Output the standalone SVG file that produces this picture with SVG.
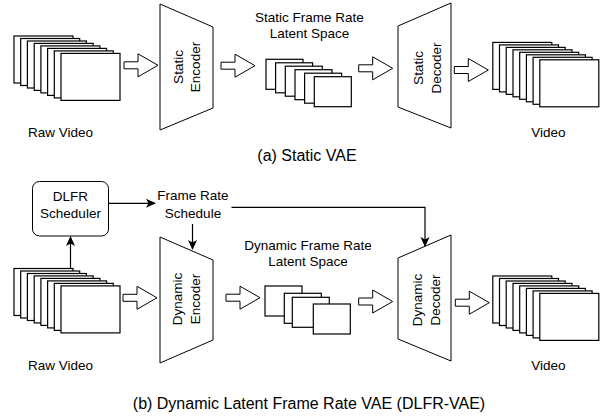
<svg xmlns="http://www.w3.org/2000/svg" xmlns:xlink="http://www.w3.org/1999/xlink" width="607" height="416" viewBox="0 0 607 416">
<style>
.fr{fill:#fff;stroke:#000;stroke-width:1.2}
.sh{fill:#fff;stroke:#000;stroke-width:1}
.t{font-family:"Liberation Sans",Arial,sans-serif;font-size:13.5px;fill:#000;text-anchor:middle}
.cap{font-family:"Liberation Sans",Arial,sans-serif;font-size:16px;fill:#000;text-anchor:middle}
.ln{fill:none;stroke:#000;stroke-width:1.2}
.blk{fill:#fff;stroke:#000;stroke-width:1}
</style>
<defs>
<marker id="ah" viewBox="0 0 10 10" refX="9" refY="5" markerWidth="10" markerHeight="10" markerUnits="userSpaceOnUse" orient="auto">
<path d="M0,0.5 L10,5 L0,9.5 L2.5,5 Z" fill="#000"/>
</marker>
<path id="barrow" d="M0,-3.5 H14 V-11.5 L34,0 L14,11.5 V3.5 H0 Z"/>
<g id="stack8">
<rect class="fr" x="14" y="36" width="59" height="47"/>
<rect class="fr" x="20.7" y="38.5" width="59" height="47"/>
<rect class="fr" x="27.4" y="41" width="59" height="47"/>
<rect class="fr" x="34.2" y="43.4" width="59" height="47"/>
<rect class="fr" x="40.9" y="45.9" width="59" height="47"/>
<rect class="fr" x="47.6" y="48.4" width="59" height="47"/>
<rect class="fr" x="54.3" y="50.9" width="59" height="47"/>
<rect class="fr" x="61" y="53.4" width="59" height="47"/>
</g>
</defs>

<!-- (a) Static VAE -->
<g id="raw-video-a">
<use xlink:href="#stack8"/>
<text class="t" x="60.5" y="136.5">Raw Video</text>
</g>
<g id="static-encoder">
<polygon class="sh" points="160,4 213,27 213,108 160,130"/>
<text class="t" transform="translate(182.5,67) rotate(-90)">Static</text>
<text class="t" transform="translate(200,67) rotate(-90)">Encoder</text>
</g>
<g id="static-latent">
<text class="t" x="309.5" y="21.5">Static Frame Rate</text>
<text class="t" x="309.5" y="38">Latent Space</text>
<rect class="fr" x="266" y="59.3" width="37" height="30"/>
<rect class="fr" x="275.6" y="62.8" width="37" height="30"/>
<rect class="fr" x="285.3" y="66.2" width="37" height="30"/>
<rect class="fr" x="295" y="69.7" width="37" height="30"/>
<rect class="fr" x="304.6" y="73.2" width="37" height="30"/>
<rect class="fr" x="314.3" y="76.7" width="37" height="30"/>
</g>
<g id="static-decoder">
<polygon class="sh" points="398,26 451,3 451,128 398,107"/>
<text class="t" transform="translate(423,68) rotate(-90)">Static</text>
<text class="t" transform="translate(440.5,68) rotate(-90)">Decoder</text>
</g>
<g id="video-a">
<use xlink:href="#stack8" transform="translate(478.8,6.4)"/>
<text class="t" x="548.3" y="136.7">Video</text>
</g>
<g id="caption-a">
<text class="cap" x="307" y="160.7">(a) Static VAE</text>
</g>

<!-- (b) Dynamic Latent Frame Rate VAE -->
<g id="dlfr-scheduler">
<rect class="sh" x="32.5" y="181.5" width="76" height="54.5" rx="7" ry="7"/>
<text class="t" x="70.5" y="201">DLFR</text>
<text class="t" x="70.5" y="218.3">Scheduler</text>
</g>
<g id="frame-rate-schedule">
<text class="t" x="193" y="200">Frame Rate</text>
<text class="t" x="193" y="217.7">Schedule</text>
</g>
<g id="raw-video-b">
<use xlink:href="#stack8" transform="translate(0,232.5)"/>
<text class="t" x="60.5" y="369.5">Raw Video</text>
</g>
<g id="dynamic-encoder">
<polygon class="sh" points="160,237 213,260 213,340 160,363"/>
<text class="t" transform="translate(181.5,299) rotate(-90)">Dynamic</text>
<text class="t" transform="translate(200,299) rotate(-90)">Encoder</text>
</g>
<g id="dynamic-latent">
<text class="t" x="308" y="250.3">Dynamic Frame Rate</text>
<text class="t" x="308" y="266">Latent Space</text>
<rect class="fr" x="265" y="286" width="37" height="30"/>
<rect class="fr" x="284.3" y="293.3" width="37" height="30"/>
<rect class="fr" x="292.3" y="297.3" width="37" height="30"/>
<rect class="fr" x="313.3" y="304" width="37" height="30"/>
</g>
<g id="dynamic-decoder">
<polygon class="sh" points="398,258 451,235 451,361 398,339"/>
<text class="t" transform="translate(421.5,300) rotate(-90)">Dynamic</text>
<text class="t" transform="translate(439.5,300) rotate(-90)">Decoder</text>
</g>
<g id="video-b">
<use xlink:href="#stack8" transform="translate(478.8,240)"/>
<text class="t" x="548.3" y="369.5">Video</text>
</g>
<g id="caption-b">
<text class="cap" x="309" y="408.7">(b) Dynamic Latent Frame Rate VAE (DLFR-VAE)</text>
</g>

<g id="connectors">
<use xlink:href="#barrow" class="blk" transform="translate(124,65.3)"/>
<use xlink:href="#barrow" class="blk" transform="translate(221,65.7)"/>
<use xlink:href="#barrow" class="blk" transform="translate(358.7,68.3)"/>
<use xlink:href="#barrow" class="blk" transform="translate(454.3,70)"/>
<use xlink:href="#barrow" class="blk" transform="translate(123,297.8)"/>
<use xlink:href="#barrow" class="blk" transform="translate(226,297.7)"/>
<use xlink:href="#barrow" class="blk" transform="translate(358.7,301.5)"/>
<use xlink:href="#barrow" class="blk" transform="translate(455.3,302.7)"/>
<path class="ln" d="M70.5,268 V237" marker-end="url(#ah)"/>
<path class="ln" d="M108.5,203.3 H155" marker-end="url(#ah)"/>
<path class="ln" d="M192.5,224 V249" marker-end="url(#ah)"/>
<path class="ln" d="M231.5,207.3 H425 V246" marker-end="url(#ah)"/>
</g>
</svg>
